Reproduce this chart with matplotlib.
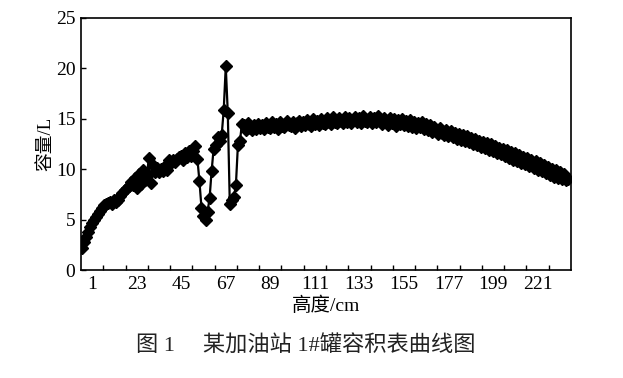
import numpy as np
import matplotlib
matplotlib.use("Agg")
import matplotlib.pyplot as plt
from matplotlib.ticker import FixedLocator

plt.rcParams['font.family'] = ['Liberation Serif', 'Noto Sans CJK SC']

# volume readings (L), one per height step
volume = [
    2.2, 2.8, 3.3, 3.8, 4.3, 4.7, 5.0, 5.3, 5.6, 5.9,
    6.2, 6.4, 6.5, 6.6, 6.7, 6.5, 6.9, 6.7, 6.9, 7.3,
    7.6, 7.9, 8.1, 8.3, 8.7, 8.4, 9.1, 8.1, 9.5, 8.5,
    9.9, 8.9, 9.3, 11.1, 8.6, 10.4, 9.7, 10.1, 9.7, 10.0,
    9.8, 10.3, 9.9, 10.9, 10.6, 10.9, 10.7, 11.0, 11.2, 11.3,
    10.9, 11.6, 11.2, 11.8, 11.3, 11.8, 12.3, 11.0, 8.8, 6.2,
    5.4, 5.0, 5.8, 7.1, 9.8, 12.0, 12.4, 13.2, 12.8, 13.4,
    15.9, 20.2, 15.6, 6.5, 6.9, 7.2, 8.4, 12.4, 12.8, 14.5,
    14.4, 13.9, 14.6, 14.1, 13.9, 14.4, 14.0, 14.5, 14.1, 14.4,
    14.0, 14.6, 14.2, 14.1, 14.7, 14.2, 14.5, 14.0, 14.7, 14.3,
    14.2, 14.8, 14.4, 14.3, 14.7, 14.1, 14.6, 14.8, 14.3, 14.7,
    14.4, 14.9, 14.5, 14.3, 15.0, 14.5, 14.8, 14.4, 15.0, 14.6,
    14.5, 15.1, 14.7, 14.5, 15.2, 14.7, 14.6, 15.1, 14.8, 14.6,
    15.2, 14.7, 15.1, 14.6, 14.9, 15.2, 14.7, 15.1, 14.6, 15.3,
    14.8, 14.7, 15.2, 14.6, 15.1, 14.7, 15.3, 14.8, 14.5, 15.1,
    14.7, 14.4, 15.1, 14.6, 15.0, 14.3, 14.9, 14.5, 15.0, 14.4,
    14.8, 14.3, 14.9, 14.2, 14.7, 14.1, 14.6, 14.2, 14.7, 14.0,
    14.5, 13.9, 14.4, 13.7, 14.2, 13.8, 13.5, 14.1, 13.6, 13.4,
    13.9, 13.3, 13.8, 13.2, 13.6, 13.0, 13.5, 12.9, 13.4, 12.8,
    13.3, 12.7, 13.1, 12.5, 13.0, 12.4, 12.8, 12.2, 12.7, 12.1,
    12.6, 11.9, 12.5, 11.8, 12.3, 11.6, 12.1, 11.5, 12.0, 11.3,
    11.9, 11.1, 11.7, 10.9, 11.6, 10.8, 11.4, 10.6, 11.2, 10.5,
    11.1, 10.3, 10.9, 10.1, 10.8, 9.9, 10.6, 9.8, 10.4, 9.6,
    10.2, 9.4, 10.0, 9.2, 9.9, 9.1, 9.7, 9.0, 9.5, 8.9,
    9.0,
]
height = np.arange(len(volume)) - 4

xlabels = [1, 23, 45, 67, 89, 111, 133, 155, 177, 199, 221]
yticks = [0, 5, 10, 15, 20, 25]

fig = plt.figure(figsize=(6.23, 3.78), dpi=100)
ax = fig.add_axes([0.130, 0.2857, 0.7865, 0.6667])

ax.plot(height, volume, color='black', lw=1.6, marker='D', ms=6.3,
        mfc='black', mec='black')

ax.set_xlim(-4.5, 237.5)
ax.set_ylim(0, 25)

ax.xaxis.set_major_locator(FixedLocator(xlabels))
ax.set_xticklabels([str(v) for v in xlabels])
ax.xaxis.set_minor_locator(FixedLocator(np.arange(6.5, 237, 11)))
ax.tick_params(axis='x', which='major', length=0, pad=4, labelsize=14)
ax.tick_params(axis='x', which='minor', direction='in', length=3.5, width=1)

ax.set_yticks(yticks)
ax.tick_params(axis='y', direction='in', length=3.5, width=1, pad=4, labelsize=14)

for s in ax.spines.values():
    s.set_linewidth(1.2)

ax.set_xlabel('高度/cm', fontsize=14, labelpad=3)
ax.set_ylabel('容量/L', fontsize=13.5, labelpad=1)

fig.text(0.49, 0.085, '图 1\u3000 某加油站 1#罐容积表曲线图', ha='center', va='center',
         fontsize=16, color='#222222')

fig.savefig('out.png', dpi=100)
